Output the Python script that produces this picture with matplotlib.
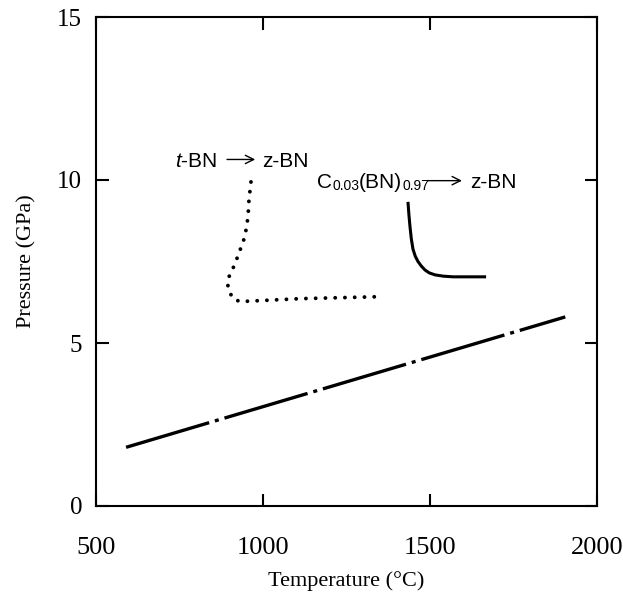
import matplotlib
matplotlib.use('Agg')
import matplotlib.pyplot as plt
from matplotlib.transforms import IdentityTransform

plt.rcParams['mathtext.fontset'] = 'custom'
plt.rcParams['mathtext.rm'] = 'Liberation Sans'
plt.rcParams['mathtext.it'] = 'Liberation Sans:italic'

# t-BN -> z-BN (dotted)
tbn_temp = [964, 958, 955, 946, 925, 907, 895, 895, 910, 931, 991, 1111, 1231, 1347]
tbn_press = [9.94, 9.39, 8.85, 8.27, 7.67, 7.21, 6.97, 6.67, 6.36, 6.27, 6.30, 6.36, 6.39, 6.42]

# C0.03(BN)0.97 -> z-BN (solid)
cbn_temp = [1434, 1437, 1440, 1444, 1449, 1456, 1464, 1474, 1485, 1498, 1515, 1540, 1569, 1668]
cbn_press = [9.33, 8.92, 8.58, 8.20, 7.88, 7.66, 7.50, 7.36, 7.24, 7.15, 7.09, 7.05, 7.03, 7.03]

# equilibrium line (dash-dot)
eq_temp = [590, 1905]
eq_press = [1.8, 5.8]

x_ticks = [500, 1000, 1500, 2000]
y_ticks = [0, 5, 10, 15]

sans = ['Liberation Sans', 'DejaVu Sans']
serif = ['Liberation Serif', 'DejaVu Serif']

fig = plt.figure(figsize=(6.23, 5.94), dpi=100)
ax = fig.add_axes([96 / 623, 1 - 506 / 594, 501 / 623, 489 / 594])

ax.plot(eq_temp, eq_press, color='black', lw=2.4,
        linestyle=(0, (26, 1.8, 1.2, 1.8)), dash_capstyle='butt')
ax.plot(tbn_temp, tbn_press, color='black', lw=2.8,
        linestyle=(0, (0.01, 2.5)), dash_capstyle='round')
ax.plot(cbn_temp, cbn_press, color='black', lw=2.2, solid_capstyle='butt')

ax.set_xlim(500, 2000)
ax.set_ylim(0, 15)
ax.set_xticks(x_ticks)
ax.set_yticks(y_ticks)

ax.set_xticklabels([str(t) for t in x_ticks], family=serif, fontsize=19)
ax.set_yticklabels([str(t) for t in y_ticks], family=serif, fontsize=18)
ax.tick_params(direction='in', length=9, width=1.5, top=True, right=True)
ax.tick_params(axis='x', pad=22)
ax.tick_params(axis='y', pad=10)
for s in ax.spines.values():
    s.set_linewidth(1.5)

ax.set_xlabel('Temperature (°C)', family=serif, fontsize=16, labelpad=9)
ax.set_ylabel('Pressure (GPa)', family=serif, fontsize=16, labelpad=15)

ax.text(737, 10.4, r'$\mathit{t}$-BN', fontsize=15, ha='left', va='baseline', family=sans)
ax.annotate('', xy=(985, 10.63), xytext=(884, 10.63),
            arrowprops=dict(arrowstyle='->', lw=1.0, color='black', mutation_scale=15))
ax.text(997, 10.4, 'z-BN', family=sans, fontsize=15, ha='left', va='baseline')

# C0.03(BN)0.97 built piece by piece so the subscripts stay small
renderer = fig.canvas.get_renderer()
px, py = ax.transData.transform((1162, 9.75))
for txt, size, drop in [('C', 15, 0), ('0.03', 10, 2), ('(BN)', 15, 0), ('0.97', 10, 2)]:
    t = fig.text(px, py - drop, txt, family=sans, fontsize=size, ha='left', va='baseline',
                 transform=IdentityTransform())
    px = t.get_window_extent(renderer).x1

ax.annotate('', xy=(1604, 9.98), xytext=(1484, 9.98),
            arrowprops=dict(arrowstyle='->', lw=1.0, color='black', mutation_scale=15))
ax.text(1620, 9.75, 'z-BN', family=sans, fontsize=15, ha='left', va='baseline')

fig.savefig('out.png', dpi=100)
